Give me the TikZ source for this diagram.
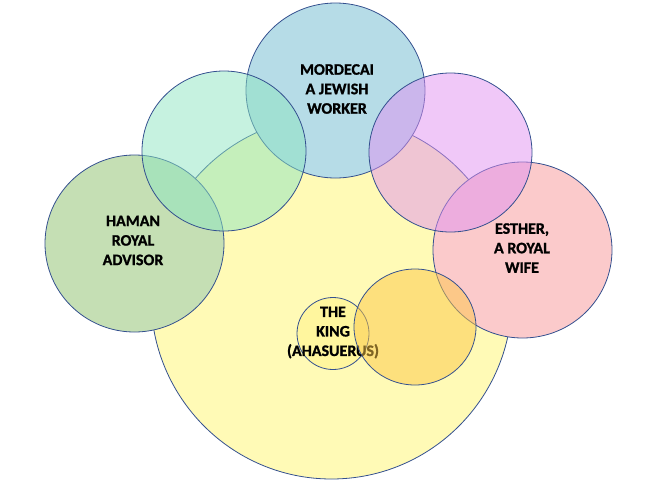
\documentclass[tikz,border=0pt]{standalone}
\usepackage{fontspec}
\setmainfont{Carlito}[BoldFont={Carlito Bold}, BoldFeatures={FakeBold=1.2}]
\definecolor{edgeblue}{HTML}{34508F}
\definecolor{kingyellow}{HTML}{FFFAB6}
\definecolor{hamangreen}{HTML}{C5DFB4}
\definecolor{mordblue}{HTML}{B6DCE7}
\definecolor{esterpink}{HTML}{FBCACB}
\definecolor{mintc}{HTML}{8DE5C1}
\definecolor{purplec}{HTML}{E191F1}
\definecolor{innerking}{HTML}{FFF69E}
\definecolor{orangec}{HTML}{FDC846}
\tikzset{
  ring/.style={draw=edgeblue, line width=0.8pt},
  solidring/.style={ring, fill=#1},
  glassring/.style={ring, fill=#1, fill opacity=0.5},
  lbl/.style={font=\bfseries\fontsize{16}{19.5}\selectfont, align=center, text=black, inner sep=0pt}
}
\begin{document}
\begin{tikzpicture}[x=1pt,y=-1pt]
\useasboundingbox (0,0) rectangle (657,488);
% big circle
\draw[solidring=kingyellow] (331.5,297.6) ellipse [x radius=180.5, y radius=181.4];
\coordinate (big) at (331.5,297.6);
% opaque circles
\draw[solidring=hamangreen] (134.5,243.5) ellipse [x radius=89.5, y radius=88.5];
\coordinate (haman) at (134.5,243.5);
\draw[solidring=esterpink] (522.5,250) ellipse [x radius=89.5, y radius=88];
\coordinate (esther) at (522.5,250);
\draw[solidring=mordblue] (335.5,90.5) ellipse [x radius=89.5, y radius=87.5];
\coordinate (mord) at (335.5,90.5);
% transparent circles
\draw[glassring=mintc] (224,151) ellipse [x radius=82, y radius=80];
\draw[glassring=purplec] (450.5,152.5) ellipse [x radius=81.5, y radius=79.5];
% king
\draw[solidring=innerking] (333,333.5) circle [radius=36];
\coordinate (king) at (333,333.5);
% labels
\node[lbl] (mordlbl) at (337,89) {MORDECAI\\A JEWISH\\WORKER};
\node[lbl] (hamanlbl) at (133,240.5) {HAMAN\\ROYAL\\ADVISOR};
\node[lbl] (estherlbl) at (522,248) {ESTHER,\\A ROYAL\\WIFE};
\node[lbl] (kinglbl) at (333,332.5) {THE\\KING\\(AHASUERUS)};
% orange on top
\draw[glassring=orangec] (415,327) ellipse [x radius=61, y radius=58];
\end{tikzpicture}
\end{document}
